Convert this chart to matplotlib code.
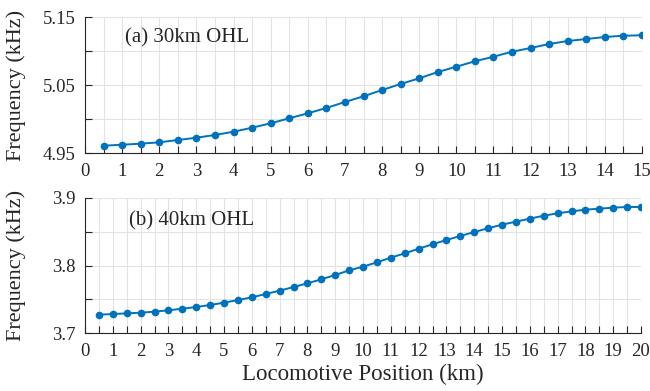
import numpy as np
import matplotlib
matplotlib.use('Agg')
import matplotlib.pyplot as plt
from matplotlib.ticker import MultipleLocator, FixedLocator

plt.rcParams['font.family'] = ['Liberation Serif', 'DejaVu Serif']

# locomotive position (km)
pos_a = np.arange(0.5, 15.01, 0.5)
pos_b = np.arange(0.5, 20.01, 0.5)

# frequency (kHz)
freq_a = [4.9607, 4.9622, 4.9637, 4.9657, 4.9691, 4.9725, 4.9765, 4.9813,
          4.9872, 4.9937, 5.0010, 5.0084, 5.0162, 5.0250, 5.0334, 5.0426,
          5.0515, 5.0598, 5.0691, 5.0769, 5.0849, 5.0916, 5.0990, 5.1044,
          5.1103, 5.1147, 5.1176, 5.1206, 5.1225, 5.1231]
freq_b = [3.7272, 3.7281, 3.7291, 3.7301, 3.7316, 3.7336, 3.7360, 3.7385,
          3.7415, 3.7449, 3.7489, 3.7528, 3.7578, 3.7627, 3.7681, 3.7736,
          3.7795, 3.7859, 3.7928, 3.7983, 3.8047, 3.8116, 3.8180, 3.8249,
          3.8314, 3.8378, 3.8437, 3.8496, 3.8551, 3.8605, 3.8649, 3.8694,
          3.8738, 3.8773, 3.8802, 3.8827, 3.8842, 3.8857, 3.8867, 3.8867]

labels = ['(a) 30km OHL', '(b) 40km OHL']
color = '#0072BD'
txt = '#262626'

fig = plt.figure(figsize=(6.5, 3.91), dpi=100)
ax1 = fig.add_axes([85/650, 1 - 153/391, 557/650, 136/391])
ax2 = fig.add_axes([85/650, 1 - 333/391, 556/650, 135/391])


def style(ax, xmax, ylo, yhi, ylabels):
    ax.set_xlim(0, xmax)
    ax.set_ylim(ylo, yhi)
    ax.xaxis.set_major_locator(MultipleLocator(1))
    ax.xaxis.set_minor_locator(MultipleLocator(0.5))
    yt = np.linspace(ylo, yhi, 5)
    ax.yaxis.set_major_locator(FixedLocator(yt))
    ax.set_yticklabels([ylabels[0], '', ylabels[1], '', ylabels[2]])
    ax.grid(True, which='major', color='#e3e3e3', lw=0.8)
    ax.grid(True, which='minor', color='#e3e3e3', lw=0.8)
    ax.set_axisbelow(True)
    for s in ['top', 'right']:
        ax.spines[s].set_visible(False)
    for s in ['left', 'bottom']:
        ax.spines[s].set_color(txt)
        ax.spines[s].set_linewidth(0.8)
    ax.tick_params(direction='in', which='both', length=5, width=0.8,
                   colors=txt, labelsize=13.5)
    ax.tick_params(axis='x', pad=7)
    ax.tick_params(axis='y', pad=7)
    ax.set_ylabel('Frequency (kHz)', fontsize=16, color=txt)
    ax.yaxis.set_label_coords(-0.106, 0.5)


ax1.plot(pos_a, freq_a, '-o', color=color, lw=1.4, ms=4.5)
style(ax1, 15, 4.95, 5.15, ['4.95', '5.05', '5.15'])
ax1.text(1.08, 5.12, labels[0], fontsize=15, va='center', color=txt)

ax2.plot(pos_b, freq_b, '-o', color=color, lw=1.4, ms=4.5)
style(ax2, 20, 3.7, 3.9, ['3.7', '3.8', '3.9'])
ax2.text(1.58, 3.866, labels[1], fontsize=15, va='center', color=txt)
ax2.set_xlabel('Locomotive Position (km)', fontsize=16.5, color=txt, labelpad=3)

fig.savefig('out.png', dpi=100)
